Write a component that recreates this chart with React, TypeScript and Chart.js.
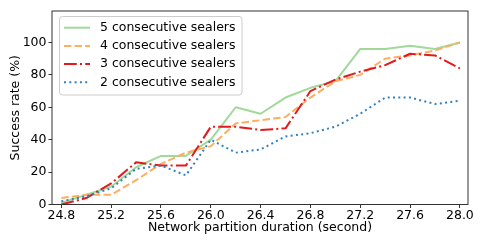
import React, { useEffect, useRef } from "react";
import { Chart, registerables } from "chart.js";

Chart.register(...registerables);

const durations = [24.8, 25.0, 25.2, 25.4, 25.6, 25.8, 26.0, 26.2, 26.4, 26.6, 26.8, 27.0, 27.2, 27.4, 27.6, 27.8, 28.0];
const sealers5 = [1, 6, 11, 23, 30, 30, 40, 60, 56, 66, 72, 76, 96, 96, 98, 96, 100];
const sealers4 = [4, 6, 6, 15, 25, 32, 36, 50, 52, 54, 66, 76, 80, 90, 92, 95, 100];
const sealers3 = [0, 4, 13, 26, 24, 24, 48, 48, 46, 47, 70, 77, 82, 86, 93, 92, 84];
const sealers2 = [2, 5, 10, 22, 24, 18, 40, 32, 34, 42, 44, 48, 56, 66, 66, 62, 64];

const seriesLabels = ["5 consecutive sealers", "4 consecutive sealers", "3 consecutive sealers", "2 consecutive sealers"];
const xTickValues = [24.8, 25.2, 25.6, 26.0, 26.4, 26.8, 27.2, 27.6, 28.0];
const yTickValues = [0, 20, 40, 60, 80, 100];

const FONT = "DejaVu Sans";

const toPoints = (vals: number[]) => vals.map((v, i) => ({ x: durations[i], y: v }));

const framePlugin = {
  id: "frameAndLegend",
  afterDraw(chart: any) {
    const { ctx, chartArea } = chart;
    ctx.save();
    ctx.strokeStyle = "#333";
    ctx.lineWidth = 1;
    ctx.setLineDash([]);
    ctx.strokeRect(chartArea.left, chartArea.top, chartArea.right - chartArea.left, chartArea.bottom - chartArea.top);

    // legend
    const bx = 59.5, by = 16.5, bw = 182.5, bh = 78.5;
    ctx.beginPath();
    ctx.roundRect(bx, by, bw, bh, 3);
    ctx.fillStyle = "rgba(255,255,255,0.8)";
    ctx.fill();
    ctx.strokeStyle = "#cccccc";
    ctx.lineWidth = 1;
    ctx.stroke();

    chart.data.datasets.forEach((ds: any, i: number) => {
      const y = 27.7 + i * 18.2;
      ctx.beginPath();
      ctx.strokeStyle = ds.borderColor;
      ctx.lineWidth = ds.borderWidth;
      ctx.setLineDash(ds.borderDash || []);
      ctx.lineCap = "butt";
      ctx.moveTo(64, y);
      ctx.lineTo(90, y);
      ctx.stroke();
      ctx.setLineDash([]);
      ctx.fillStyle = "#000";
      ctx.font = `12.5px "${FONT}"`;
      ctx.textBaseline = "middle";
      ctx.textAlign = "left";
      ctx.fillText(ds.label, 100, y);
    });
    ctx.restore();
  },
};

export default function App() {
  const ref = useRef<HTMLCanvasElement | null>(null);

  useEffect(() => {
    if (!ref.current) return;
    const common = { pointRadius: 0, borderWidth: 2, tension: 0, fill: false, borderJoinStyle: "round" as const };
    const chart = new Chart(ref.current, {
      type: "line",
      data: {
        datasets: [
          { ...common, label: seriesLabels[0], data: toPoints(sealers5), borderColor: "#a1d99b", borderDash: [], order: 3 },
          { ...common, label: seriesLabels[1], data: toPoints(sealers4), borderColor: "#fdae61", borderDash: [7.4, 3.2], order: 2 },
          { ...common, label: seriesLabels[2], data: toPoints(sealers3), borderColor: "#e31a1c", borderDash: [12.8, 3.2, 2, 3.2], order: 1 },
          { ...common, label: seriesLabels[3], data: toPoints(sealers2), borderColor: "#3182bd", borderDash: [2, 3.3], order: 0 },
        ],
      },
      options: {
        responsive: false,
        animation: false,
        devicePixelRatio: 1,
        layout: { padding: { top: 11, right: 17, left: 0, bottom: 0 } },
        plugins: { legend: { display: false }, tooltip: { enabled: false } },
        scales: {
          x: {
            type: "linear",
            min: 24.725,
            max: 28.065,
            afterBuildTicks: (scale: any) => {
              scale.ticks = xTickValues.map((v) => ({ value: v }));
            },
            afterFit: (scale: any) => {
              scale.height = 42.5;
            },
            ticks: {
              autoSkip: false,
              maxRotation: 0,
              padding: 0,
              color: "#000",
              font: { family: FONT, size: 12.5 },
              callback: (v: any) => Number(v).toFixed(1),
            },
            grid: { display: true, drawOnChartArea: false, drawTicks: true, tickLength: 3.5, color: "#333" },
            border: { display: false },
            title: {
              display: true,
              text: "Network partition duration (second)",
              color: "#000",
              font: { family: FONT, size: 12.5 },
              padding: { top: 0, bottom: 11.5 },
            },
          },
          y: {
            type: "linear",
            min: 0,
            max: 119.4,
            afterBuildTicks: (scale: any) => {
              scale.ticks = yTickValues.map((v) => ({ value: v }));
            },
            afterFit: (scale: any) => {
              scale.width = 52;
            },
            ticks: {
              padding: 2,
              color: "#000",
              font: { family: FONT, size: 12.5 },
              callback: (v: any) => String(v),
            },
            grid: { display: true, drawOnChartArea: false, drawTicks: true, tickLength: 3.5, color: "#333" },
            border: { display: false },
            title: {
              display: true,
              text: "Success rate (%)",
              color: "#000",
              font: { family: FONT, size: 12.5 },
              padding: { top: 8.5, bottom: 0 },
            },
          },
        },
      },
      plugins: [framePlugin],
    });
    return () => chart.destroy();
  }, []);

  return (
    <div style={{ position: "absolute", left: 0, top: 0, width: 485, height: 247, background: "#fff" }}>
      <canvas ref={ref} width={485} height={247} />
    </div>
  );
}
